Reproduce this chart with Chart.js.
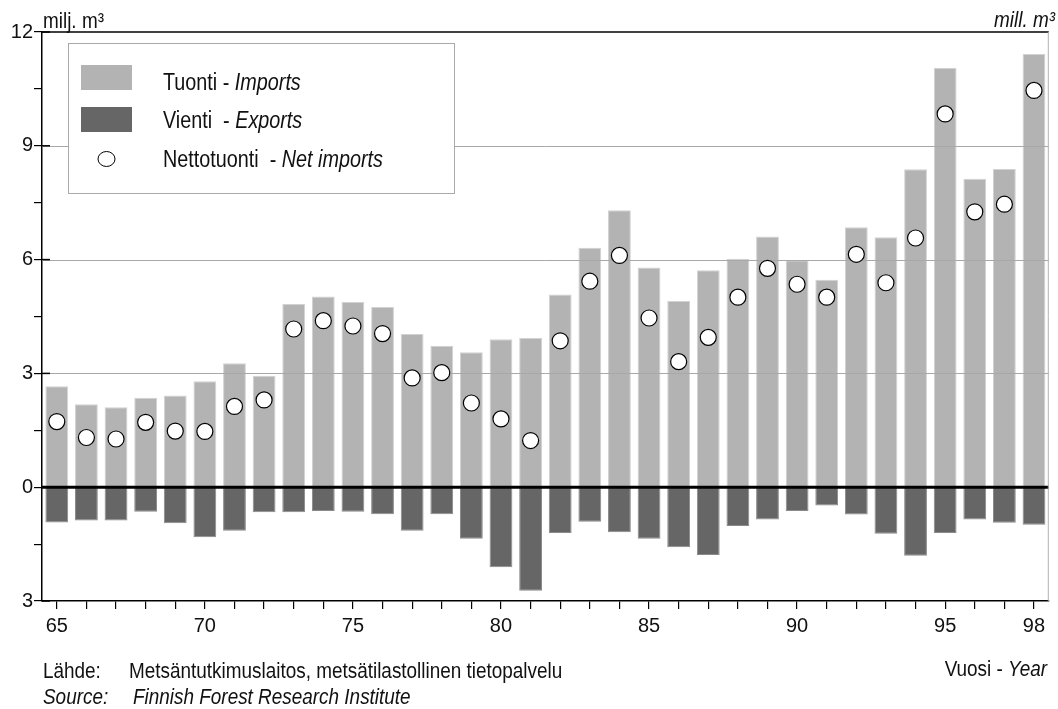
<!DOCTYPE html>
<html>
<head>
<meta charset="utf-8">
<script src="https://cdn.jsdelivr.net/npm/chart.js@4.4.1/dist/chart.umd.min.js"></script>
<style>
  html, body { margin: 0; padding: 0; background: #fff; }
</style>
</head>
<body>
<canvas id="chart" width="1058" height="709"></canvas>
<script>
// vuodet 1965-1998
const years = ['65','66','67','68','69','70','71','72','73','74','75','76','77','78','79','80','81',
  '82','83','84','85','86','87','88','89','90','91','92','93','94','95','96','97','98'];
const shownYears = ['65','70','75','80','85','90','95','98'];

// milj. m3
const imports = [2.66, 2.19, 2.11, 2.36, 2.42, 2.79, 3.27, 2.94, 4.83, 5.03, 4.88, 4.75, 4.04, 3.73, 3.56, 3.90, 3.93,
  5.08, 6.31, 7.30, 5.79, 4.91, 5.72, 6.02, 6.61, 5.98, 5.47, 6.85, 6.59, 8.38, 11.05, 8.13, 8.39, 11.42];
const exports = [-0.93, -0.88, -0.88, -0.65, -0.95, -1.32, -1.15, -0.66, -0.66, -0.63, -0.65, -0.71, -1.15, -0.71, -1.36, -2.11, -2.73,
  -1.21, -0.91, -1.19, -1.36, -1.58, -1.79, -1.02, -0.85, -0.63, -0.48, -0.72, -1.23, -1.81, -1.21, -0.85, -0.94, -0.99];
const netImports = [1.73, 1.31, 1.27, 1.71, 1.48, 1.47, 2.13, 2.30, 4.17, 4.39, 4.25, 4.05, 2.88, 3.02, 2.22, 1.80, 1.23,
  3.86, 5.43, 6.11, 4.46, 3.31, 3.95, 5.01, 5.77, 5.35, 5.01, 6.14, 5.39, 6.57, 9.84, 7.26, 7.46, 10.46];

const gridValues = [3, 6, 9];
const majorTicks = [-3, 0, 3, 6, 9, 12];

const IMPORT_COLOR = '#b3b3b3';
const EXPORT_COLOR = '#666666';

const FAMILY = '"Liberation Sans", Arial, sans-serif';
const TICK_SIZE = 20;
// kapea kirjasin: isompi koko, vaakasuunnassa puristettu
const SIZE = 22;
const LEGEND_SIZE = 23;
const SQUEEZE = 0.86;

const font = (size, italic) => (italic ? 'italic ' : '') + size + 'px ' + FAMILY;

// tekstin piirto, osat normaalina / kursiivina
function drawParts(ctx, parts, x, y, size, align) {
  ctx.save();
  ctx.textBaseline = 'alphabetic';
  ctx.textAlign = 'left';
  let total = 0;
  parts.forEach(p => { ctx.font = font(size, p[1]); total += ctx.measureText(p[0]).width; });
  ctx.translate(align === 'right' ? x - total * SQUEEZE : x, y);
  ctx.scale(SQUEEZE, 1);
  let cx = 0;
  parts.forEach(p => {
    ctx.font = font(size, p[1]);
    ctx.fillText(p[0], cx, 0);
    cx += ctx.measureText(p[0]).width;
  });
  ctx.restore();
}

const overlay = {
  id: 'overlay',
  beforeDatasetDraw(chart, args) {
    if (args.meta.type !== 'line') return;
    const { ctx, chartArea } = chart;
    const y = chart.scales.y;
    ctx.save();
    // ruudukko pylväiden päälle
    ctx.strokeStyle = '#a8a8a8';
    ctx.lineWidth = 1;
    gridValues.forEach(v => {
      const py = Math.round(y.getPixelForValue(v)) + 0.5;
      ctx.beginPath();
      ctx.moveTo(chartArea.left, py);
      ctx.lineTo(chartArea.right, py);
      ctx.stroke();
    });
    // nollaviiva
    ctx.strokeStyle = '#000';
    ctx.lineWidth = 3;
    const py0 = y.getPixelForValue(0);
    ctx.beginPath();
    ctx.moveTo(chartArea.left, py0);
    ctx.lineTo(chartArea.right, py0);
    ctx.stroke();
    ctx.restore();
  },
  afterDraw(chart) {
    const { ctx, chartArea } = chart;
    const y = chart.scales.y;
    ctx.save();
    // yläreuna ja oikea reuna
    ctx.strokeStyle = '#000';
    ctx.lineWidth = 1.5;
    ctx.beginPath();
    ctx.moveTo(chartArea.left, chartArea.top);
    ctx.lineTo(chartArea.right, chartArea.top);
    ctx.stroke();
    ctx.strokeStyle = '#b0b0b0';
    ctx.lineWidth = 1;
    ctx.beginPath();
    ctx.moveTo(chartArea.right - 0.5, chartArea.top);
    ctx.lineTo(chartArea.right - 0.5, chartArea.bottom);
    ctx.stroke();
    // pääjaon merkit akselin oikealle puolelle
    ctx.strokeStyle = '#000';
    ctx.lineWidth = 1.5;
    majorTicks.forEach(v => {
      const py = y.getPixelForValue(v);
      ctx.beginPath();
      ctx.moveTo(chartArea.left, py);
      ctx.lineTo(chartArea.left + 8, py);
      ctx.stroke();
    });

    // selite
    ctx.fillStyle = '#fff';
    ctx.fillRect(68, 43, 386, 150);
    ctx.strokeStyle = '#aaaaaa';
    ctx.lineWidth = 1;
    ctx.strokeRect(68.5, 43.5, 386, 150);
    ctx.fillStyle = IMPORT_COLOR;
    ctx.fillRect(81, 65, 51, 25);
    ctx.fillStyle = EXPORT_COLOR;
    ctx.fillRect(81, 107, 51, 25);
    ctx.beginPath();
    ctx.ellipse(106.5, 159, 8.5, 7.5, 0, 0, Math.PI * 2);
    ctx.fillStyle = '#fff';
    ctx.fill();
    ctx.strokeStyle = '#000';
    ctx.lineWidth = 1;
    ctx.stroke();

    ctx.fillStyle = '#111';
    drawParts(ctx, [['Tuonti - ', false], ['Imports', true]], 163, 90, LEGEND_SIZE);
    drawParts(ctx, [['Vienti  - ', false], ['Exports', true]], 163, 128, LEGEND_SIZE);
    drawParts(ctx, [['Nettotuonti  - ', false], ['Net imports', true]], 163, 167, LEGEND_SIZE);

    // yksiköt
    drawParts(ctx, [['milj. m³', false]], 43, 28, SIZE);
    drawParts(ctx, [['mill. m³', true]], 1055, 27, SIZE, 'right');

    // lähde ja x-akselin nimi
    drawParts(ctx, [['Lähde:', false]], 43, 678, SIZE);
    drawParts(ctx, [['Metsäntutkimuslaitos, metsätilastollinen tietopalvelu', false]], 129, 678, SIZE);
    drawParts(ctx, [['Source:', true]], 43, 704, SIZE);
    drawParts(ctx, [['Finnish Forest Research Institute', true]], 133, 704, SIZE);
    drawParts(ctx, [['Vuosi - ', false], ['Year', true]], 1047, 676, SIZE, 'right');
    ctx.restore();
  }
};

const ctx = document.getElementById('chart').getContext('2d');

new Chart(ctx, {
  data: {
    labels: years,
    datasets: [
      {
        type: 'line',
        label: 'Nettotuonti - Net imports',
        data: netImports,
        showLine: false,
        pointRadius: 8,
        pointBackgroundColor: '#fff',
        pointBorderColor: '#000',
        pointBorderWidth: 1.2,
        order: 0
      },
      {
        type: 'bar',
        label: 'Tuonti - Imports',
        data: imports,
        backgroundColor: IMPORT_COLOR,
        borderColor: '#d2d2d2',
        borderWidth: 1,
        grouped: false,
        categoryPercentage: 1,
        barPercentage: 0.77,
        order: 2
      },
      {
        type: 'bar',
        label: 'Vienti - Exports',
        data: exports,
        backgroundColor: EXPORT_COLOR,
        borderColor: '#8a8a8a',
        borderWidth: 1,
        grouped: false,
        categoryPercentage: 1,
        barPercentage: 0.77,
        order: 1
      }
    ]
  },
  options: {
    responsive: false,
    animation: false,
    layout: { padding: { top: 32, right: 1, left: 0, bottom: 0 } },
    plugins: {
      legend: { display: false },
      tooltip: { enabled: false }
    },
    scales: {
      x: {
        offset: true,
        grid: { offset: false, drawOnChartArea: false, tickLength: 8, color: '#000', lineWidth: 1.2 },
        border: { color: '#000', width: 1.5 },
        ticks: {
          autoSkip: false,
          maxRotation: 0,
          padding: 5,
          color: '#111',
          font: { family: FAMILY, size: TICK_SIZE },
          callback: (v, i) => shownYears.includes(years[i]) ? years[i] : ''
        },
        afterFit: s => { s.height = 108; }
      },
      y: {
        min: -3,
        max: 12,
        ticks: {
          stepSize: 1.5,
          padding: 1,
          color: '#111',
          font: { family: FAMILY, size: TICK_SIZE },
          callback: v => (v % 3 === 0 ? String(Math.abs(v)) : '')
        },
        grid: { drawOnChartArea: false, tickLength: 8, color: '#000', lineWidth: 1.2 },
        border: { color: '#000', width: 1.5 },
        afterFit: s => { s.width = 42; }
      }
    }
  },
  plugins: [overlay]
});
</script>
</body>
</html>
